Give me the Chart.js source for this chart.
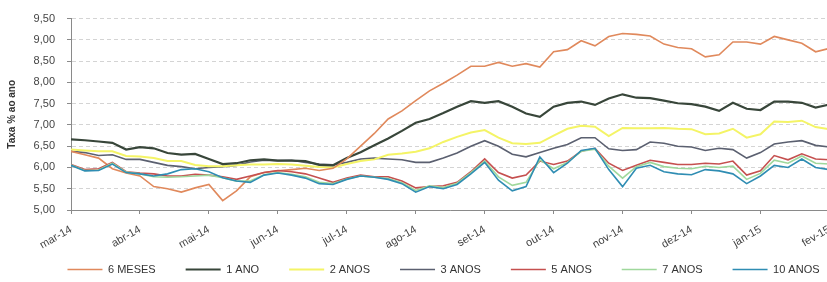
<!DOCTYPE html>
<html>
<head>
<meta charset="utf-8">
<script src="https://cdn.jsdelivr.net/npm/chart.js@4.4.1/dist/chart.umd.min.js"></script>
<style>
  html, body { margin: 0; padding: 0; background: #fff; overflow: hidden; }
  #wrap { width: 845px; height: 282px; }
</style>
</head>
<body>
<div id="wrap"><canvas id="chart" width="845" height="282"></canvas></div>
<script>
// Month tick labels (one tick per month start)
const months = ['mar-14', 'abr-14', 'mai-14', 'jun-14', 'jul-14', 'ago-14',
                'set-14', 'out-14', 'nov-14', 'dez-14', 'jan-15', 'fev-15'];

const samplesPerMonth = 5;

const seisMeses = [6.38, 6.30, 6.22, 5.97, 5.87, 5.80, 5.55, 5.50, 5.42, 5.52,
  5.60, 5.22, 5.45, 5.78, 5.88, 5.92, 5.95, 5.98, 5.93, 5.98,
  6.20, 6.50, 6.80, 7.14, 7.33, 7.57, 7.80, 7.98, 8.17, 8.38,
  8.38, 8.47, 8.38, 8.44, 8.36, 8.72, 8.77, 8.98, 8.86, 9.08,
  9.15, 9.13, 9.09, 8.90, 8.82, 8.79, 8.60, 8.65, 8.95, 8.95,
  8.90, 9.08, 9.00, 8.92, 8.72, 8.80];

const umAno = [6.66, 6.64, 6.61, 6.58, 6.42, 6.48, 6.45, 6.34, 6.30, 6.32,
  6.20, 6.08, 6.10, 6.17, 6.19, 6.16, 6.16, 6.15, 6.06, 6.05,
  6.22, 6.36, 6.52, 6.68, 6.86, 7.05, 7.14, 7.28, 7.43, 7.56,
  7.52, 7.56, 7.43, 7.27, 7.19, 7.43, 7.52, 7.55, 7.47, 7.62,
  7.72, 7.64, 7.63, 7.57, 7.51, 7.49, 7.43, 7.33, 7.52, 7.38,
  7.35, 7.55, 7.55, 7.52, 7.41, 7.48];

const doisAnos = [6.42, 6.40, 6.38, 6.38, 6.27, 6.26, 6.22, 6.15, 6.15, 6.06,
  6.03, 6.03, 6.05, 6.07, 6.07, 6.08, 6.07, 6.04, 6.01, 6.00,
  6.08, 6.15, 6.19, 6.30, 6.33, 6.37, 6.45, 6.60, 6.72, 6.82,
  6.88, 6.70, 6.57, 6.55, 6.58, 6.75, 6.91, 6.98, 6.96, 6.74,
  6.93, 6.92, 6.92, 6.93, 6.91, 6.90, 6.78, 6.80, 6.91, 6.70,
  6.78, 7.08, 7.07, 7.10, 6.95, 6.90];

const tresAnos = [6.38, 6.35, 6.28, 6.30, 6.19, 6.19, 6.12, 6.05, 6.02, 5.97,
  6.00, 6.02, 6.05, 6.13, 6.17, 6.16, 6.17, 6.12, 6.08, 6.06,
  6.12, 6.20, 6.22, 6.20, 6.18, 6.12, 6.12, 6.22, 6.34, 6.50,
  6.63, 6.50, 6.31, 6.25, 6.35, 6.45, 6.54, 6.70, 6.70, 6.44,
  6.40, 6.42, 6.60, 6.57, 6.50, 6.48, 6.40, 6.45, 6.42, 6.22,
  6.35, 6.55, 6.60, 6.63, 6.52, 6.48];

const cincoAnos = [6.07, 5.95, 5.97, 6.12, 5.90, 5.87, 5.85, 5.80, 5.80, 5.84,
  5.82, 5.78, 5.72, 5.80, 5.88, 5.93, 5.90, 5.85, 5.75, 5.65,
  5.75, 5.82, 5.78, 5.78, 5.68, 5.52, 5.55, 5.57, 5.65, 5.90,
  6.20, 5.88, 5.75, 5.82, 6.15, 6.07, 6.15, 6.38, 6.45, 6.10,
  5.93, 6.05, 6.17, 6.12, 6.07, 6.07, 6.10, 6.08, 6.15, 5.82,
  5.92, 6.28, 6.18, 6.32, 6.20, 6.18];

const seteAnos = [6.06, 5.93, 5.94, 6.10, 5.89, 5.85, 5.78, 5.77, 5.78, 5.80,
  5.82, 5.76, 5.68, 5.68, 5.83, 5.88, 5.84, 5.78, 5.65, 5.62,
  5.73, 5.80, 5.77, 5.74, 5.64, 5.46, 5.57, 5.53, 5.63, 5.88,
  6.15, 5.78, 5.58, 5.65, 6.18, 5.97, 6.12, 6.38, 6.43, 6.03,
  5.75, 6.02, 6.12, 6.02, 5.98, 5.97, 6.03, 6.00, 6.03, 5.72,
  5.86, 6.17, 6.10, 6.27, 6.10, 6.08];

const dezAnos = [6.05, 5.92, 5.93, 6.08, 5.88, 5.85, 5.80, 5.85, 5.95, 5.97,
  5.90, 5.76, 5.68, 5.65, 5.82, 5.87, 5.82, 5.75, 5.62, 5.60,
  5.72, 5.80, 5.77, 5.72, 5.62, 5.42, 5.55, 5.50, 5.60, 5.85,
  6.12, 5.70, 5.45, 5.55, 6.25, 5.88, 6.10, 6.40, 6.45, 5.95,
  5.55, 5.98, 6.05, 5.90, 5.85, 5.83, 5.95, 5.92, 5.85, 5.62,
  5.80, 6.05, 6.00, 6.20, 6.00, 5.95];

const seriesNames = ['6 MESES', '1 ANO', '2 ANOS', '3 ANOS', '5 ANOS', '7 ANOS', '10 ANOS'];
const seriesData = [seisMeses, umAno, doisAnos, tresAnos, cincoAnos, seteAnos, dezAnos];
const seriesColors = ['#e0895c', '#38463a', '#f4f466', '#5b6070', '#c5504f', '#9fd89c', '#2f8db3'];
const seriesWidths = [1.6, 2.2, 2, 1.6, 1.6, 1.6, 1.6];
const drawOrder = [3, 4, 5, 6, 2, 1, 0];

const font = "'Liberation Sans', Arial, sans-serif";

// the legend is laid out below the canvas, then moved up under the axis labels
const legendMove = {
  id: 'legendMove',
  afterLayout(chart) {
    const lg = chart.legend;
    if (!lg) return;
    const h = lg.bottom - lg.top;
    lg.top = 234;
    lg.bottom = lg.top + h;
    lg.left += 21;
    lg.right += 21;
  }
};

document.addEventListener('DOMContentLoaded', function() {
  const ctx = document.getElementById('chart').getContext('2d');

  const datasets = seriesData.map((vals, s) => ({
    label: seriesNames[s],
    data: vals.map((v, i) => ({ x: i / samplesPerMonth, y: v })),
    borderColor: seriesColors[s],
    backgroundColor: seriesColors[s],
    borderWidth: seriesWidths[s],
    pointRadius: 0,
    tension: 0,
    fill: false,
    order: drawOrder[s]
  }));

  new Chart(ctx, {
    type: 'line',
    data: { datasets: datasets },
    plugins: [legendMove],
    options: {
      responsive: false,
      animation: false,
      layout: { padding: { top: 14, left: 0, right: 0, bottom: -51 } },
      plugins: {
        tooltip: { enabled: false },
        legend: {
          position: 'bottom',
          labels: {
            usePointStyle: true,
            pointStyle: 'line',
            pointStyleWidth: 35,
            padding: 30,
            color: '#333',
            font: { family: font, size: 11 },
            sort: (a, b) => a.datasetIndex - b.datasetIndex
          }
        }
      },
      scales: {
        x: {
          type: 'linear',
          min: 0,
          max: months.length - 1,
          afterFit: (scale) => { scale.height = 72; },
          afterBuildTicks: (scale) => {
            scale.ticks = months.map((m, i) => ({ value: i }));
          },
          ticks: {
            autoSkip: false,
            maxRotation: 30,
            minRotation: 30,
            padding: 9,
            color: '#444',
            font: { family: font, size: 11 },
            callback: (v) => months[v]
          },
          grid: {
            drawOnChartArea: false,
            drawTicks: true,
            tickLength: 4,
            tickColor: '#8a8a8a'
          },
          border: { color: '#8a8a8a', width: 1 }
        },
        y: {
          min: 5,
          max: 9.5,
          afterFit: (scale) => { scale.width = 71; },
          ticks: {
            stepSize: 0.5,
            padding: 12,
            color: '#444',
            font: { family: font, size: 11 },
            callback: (v) => v.toFixed(2).replace('.', ',')
          },
          grid: {
            color: '#d4d4d4',
            tickLength: 4,
            tickColor: '#8a8a8a',
            tickBorderDash: []
          },
          border: { color: '#8a8a8a', width: 1, dash: [4, 3] },
          title: {
            display: true,
            text: 'Taxa % ao ano',
            color: '#333',
            padding: { top: 6, bottom: 0 },
            font: { family: font, size: 10, weight: 'bold' }
          }
        }
      }
    }
  });
});
</script>
</body>
</html>
